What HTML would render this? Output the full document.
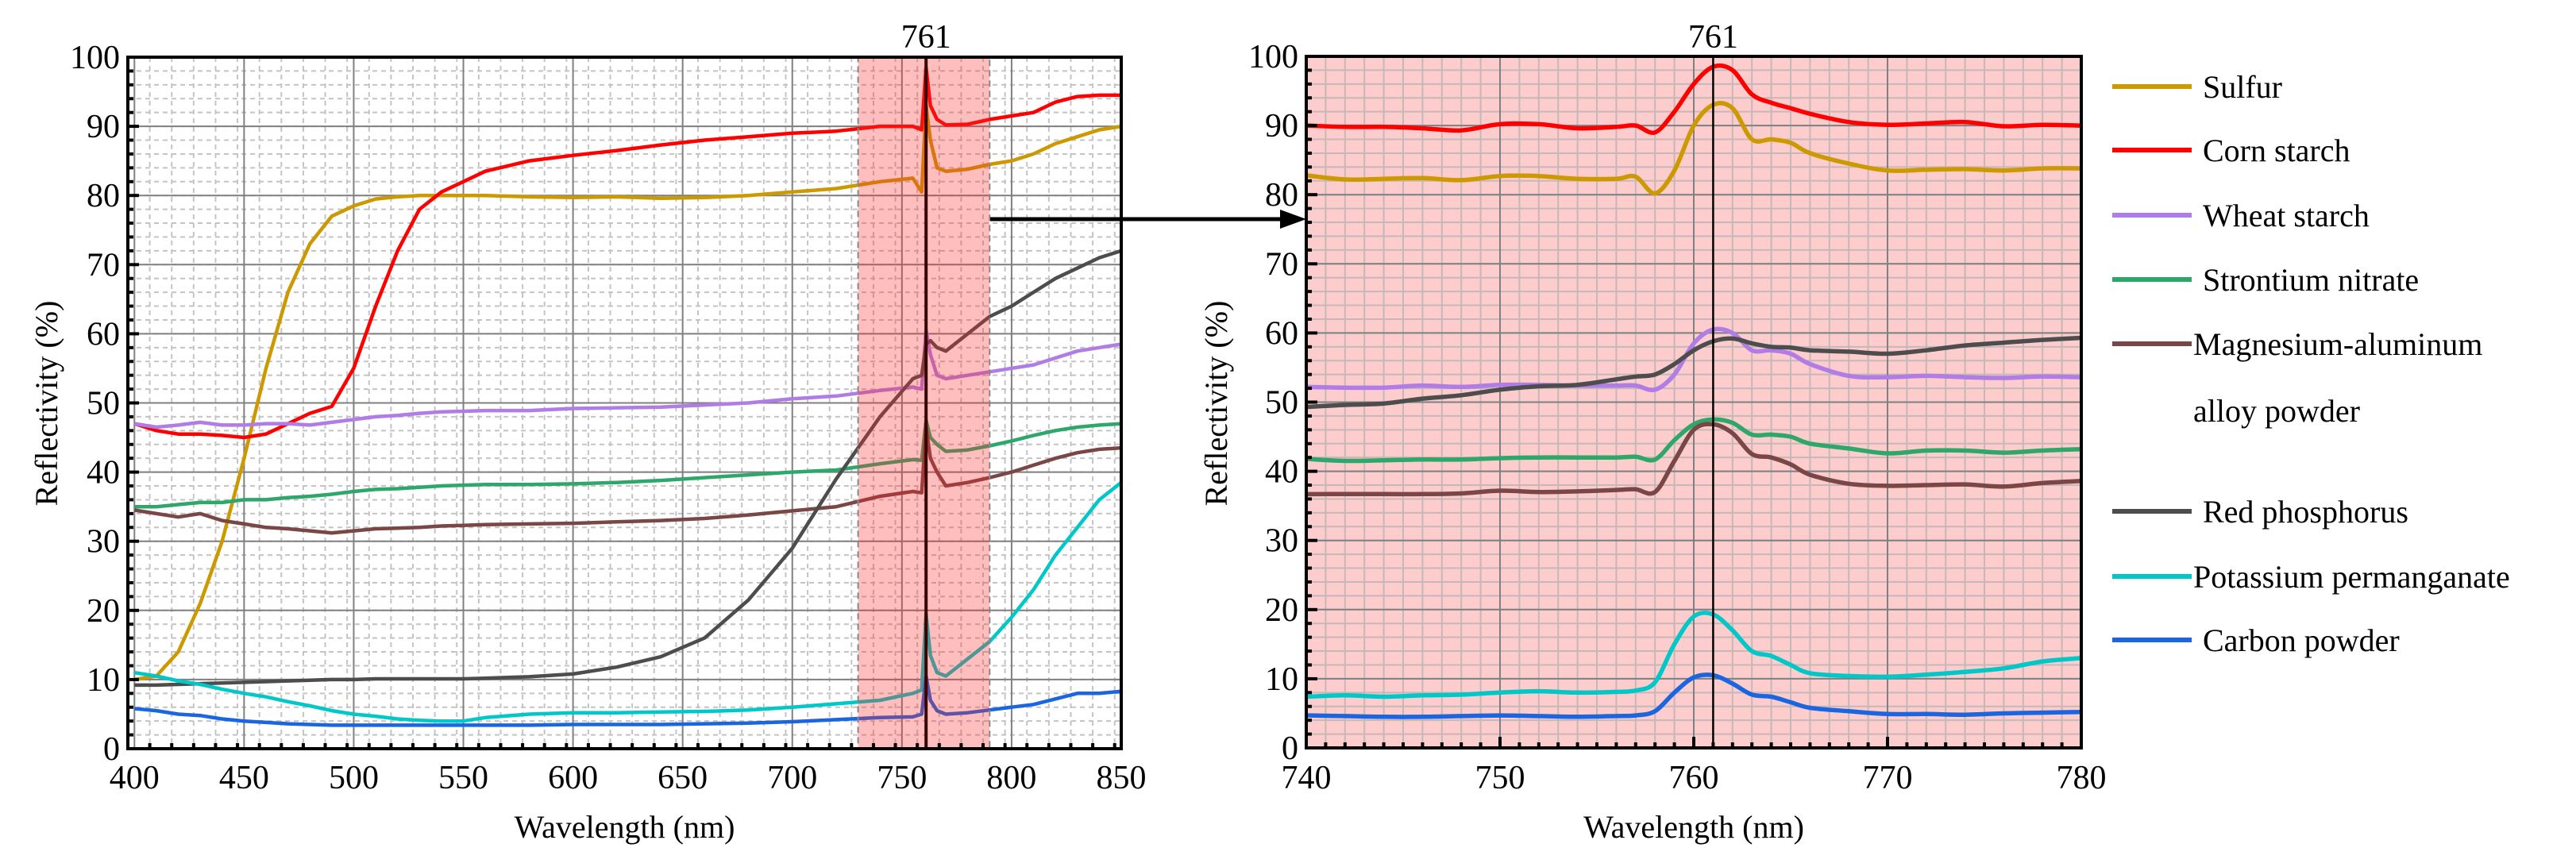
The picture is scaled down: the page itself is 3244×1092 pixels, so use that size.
<!DOCTYPE html>
<html><head><meta charset="utf-8">
<style>
html,body{margin:0;padding:0;background:#fff;}
svg{display:block;}
svg text{font-family:"Liberation Serif","Times New Roman",serif;}
</style></head>
<body>
<svg id="fig" width="3244" height="1092" viewBox="0 0 3244 1092" xmlns="http://www.w3.org/2000/svg" font-family="Liberation Serif, serif">
<g id="left"></g>
<g id="right"></g>
<g id="legend"></g>
<g>
<line x1="1247" y1="276" x2="1620" y2="276" stroke="#000" stroke-width="5"/>
<polygon points="1645,276 1612,264 1612,288" fill="#000"/>
</g>
</svg>
<script>
const names=["Sulfur","Corn starch","Wheat starch","Strontium nitrate","Magnesium-aluminum","Red phosphorus","Potassium permanganate","Carbon powder"];
const colors=["#cc9900","#ff0000","#b07ce6","#2ea86a","#7a4646","#4d4d4d","#00c8c8","#1a66e0"];
const wlFull=[400,410,420,430,440,450,460,470,480,490,500,510,520,530,540,550,560,580,600,620,640,660,680,700,720,740,755,759,761,763,766,770,780,790,800,810,820,830,840,850];
const sulfurFull=[10,10.5,14,21,30,42,55,66,73,77,78.5,79.5,79.8,80,80,80,80,79.8,79.7,79.8,79.6,79.7,80,80.5,81,82,82.5,80.5,93,88,84,83.5,83.8,84.5,85,86,87.5,88.5,89.5,90];
const cornFull=[47,46,45.5,45.5,45.3,45,45.5,47,48.5,49.5,55,64,72,78,80.5,82,83.5,85,85.8,86.5,87.3,88,88.5,89,89.3,90,90,89.5,98.5,93,91,90.2,90.3,91,91.5,92,93.5,94.3,94.5,94.5];
const wheatFull=[47,46.5,46.8,47.2,46.8,46.8,47,47,46.8,47.2,47.6,48,48.2,48.5,48.7,48.8,48.9,48.9,49.2,49.3,49.4,49.7,50,50.6,51,51.8,52.3,52,60.5,57,54,53.5,54,54.5,55,55.5,56.5,57.5,58,58.5];
const strontiumFull=[35,35,35.3,35.6,35.6,36,36,36.3,36.5,36.8,37.2,37.5,37.6,37.8,38,38.1,38.2,38.2,38.3,38.5,38.8,39.2,39.6,40,40.3,41.2,41.8,41.7,47.5,45,44,43,43.2,43.8,44.5,45.3,46,46.5,46.8,47];
const magnesiumFull=[34.5,34,33.5,34,33,32.5,32,31.8,31.5,31.2,31.5,31.8,31.9,32,32.2,32.3,32.4,32.5,32.6,32.8,33,33.3,33.8,34.4,35,36.5,37.2,37,46.5,42,40,38,38.5,39.2,40,41,42,42.8,43.3,43.5];
const phosphorusFull=[9.2,9.2,9.3,9.4,9.5,9.6,9.7,9.8,9.9,10,10,10.1,10.1,10.1,10.1,10.1,10.2,10.4,10.8,11.8,13.3,16,21.5,29,39,48,53.5,54,58.5,59,58,57.5,60,62.5,64,66,68,69.5,71,72];
const potassiumFull=[11,10.5,9.8,9.3,8.6,8,7.5,6.8,6.2,5.5,5,4.7,4.3,4.1,4,4,4.5,5,5.2,5.2,5.3,5.4,5.6,6,6.5,7,8,8.5,19.5,13.5,11,10.5,13,15.5,19,23,28,32,36,38.5];
const carbonFull=[5.8,5.5,5,4.8,4.3,4,3.8,3.6,3.5,3.4,3.4,3.4,3.4,3.4,3.4,3.4,3.4,3.4,3.5,3.5,3.5,3.6,3.7,3.9,4.2,4.5,4.6,5,10.5,7,5.5,5,5.2,5.6,6,6.4,7.2,8,8,8.3];
const wlZoom=[740,742,744,746,748,750,752,754,756,757,758,759,760,761,762,763,764,765,766,768,770,772,774,776,778,780];
const sulfurZoom=[82.8,82.2,82.3,82.4,82.1,82.7,82.7,82.3,82.3,82.6,80.2,83.5,90,93,92.5,88,88,87.5,86,84.5,83.5,83.6,83.7,83.5,83.8,83.8];
const cornZoom=[90,89.8,89.8,89.6,89.3,90.2,90.2,89.6,89.8,90,89,92,96,98.5,98,94.5,93.3,92.5,91.7,90.5,90.1,90.3,90.5,89.9,90.1,90];
const wheatZoom=[52.2,52.1,52.1,52.4,52.2,52.5,52.5,52.4,52.4,52.4,51.8,54,58.5,60.5,60,57.5,57.5,57,55.5,53.8,53.6,53.8,53.6,53.5,53.7,53.6];
const strontiumZoom=[41.8,41.5,41.6,41.7,41.7,41.9,42,42,42,42.1,41.7,44.5,46.8,47.5,47,45.3,45.3,45,44,43.3,42.6,43,43,42.7,43,43.2];
const magnesiumZoom=[36.7,36.7,36.7,36.7,36.8,37.2,37,37.1,37.3,37.4,37,41.5,46,46.8,45.5,42.5,42,41,39.5,38.2,37.9,38,38.1,37.8,38.3,38.6];
const phosphorusZoom=[49.3,49.6,49.8,50.5,51,51.8,52.3,52.5,53.3,53.7,54,55.5,57.5,58.8,59.2,58.5,58,57.9,57.5,57.3,57,57.5,58.2,58.6,59,59.3];
const potassiumZoom=[7.4,7.6,7.4,7.6,7.7,8,8.2,8,8.1,8.3,9.5,15,19,19.3,17,14,13.3,12,10.8,10.4,10.3,10.6,11,11.5,12.5,13];
const carbonZoom=[4.7,4.6,4.5,4.5,4.6,4.7,4.6,4.5,4.6,4.7,5.3,8,10.2,10.5,9.3,7.7,7.4,6.6,5.8,5.3,4.9,4.9,4.8,5,5.1,5.2];
const yTicks=[0,10,20,30,40,50,60,70,80,90,100];
const xTicksFull=[400,450,500,550,600,650,700,750,800,850];
const xTicksZoom=[740,750,760,770,780];

const NS="http://www.w3.org/2000/svg";
const FONT="Liberation Serif, Times New Roman, serif";
function mk(parent,tag,attrs,text){const e=document.createElementNS(NS,tag);for(const k in attrs)e.setAttribute(k,attrs[k]);if(text!==undefined){e.textContent=text;e.setAttribute('font-family',FONT);}parent.appendChild(e);return e;}

function chart(g,o){
  const X=v=>o.x0+(v-o.xmin)/(o.xmax-o.xmin)*(o.x1-o.x0);
  const Y=v=>o.y1-(v-0)/100*(o.y1-o.y0);
  if(o.bg){const r=mk(g,'rect',{x:o.x0,y:o.y0,width:o.x1-o.x0,height:o.y1-o.y0,fill:o.bg});
    }
  for(let v=o.xmin;v<=o.xmax;v+=o.xminor){if(v<o.xt[0])continue;const l=mk(g,'line',{x1:X(v),x2:X(v),y1:o.y0,y2:o.y1,stroke:o.minorCol,'stroke-width':2,'stroke-dasharray':o.dash});
    }
  for(let v=0;v<=100;v+=2){const l=mk(g,'line',{x1:o.x0,x2:o.x1,y1:Y(v),y2:Y(v),stroke:o.minorCol,'stroke-width':2,'stroke-dasharray':o.dash});
    }
  o.xt.forEach(v=>{const l=mk(g,'line',{x1:X(v),x2:X(v),y1:o.y0,y2:o.y1,stroke:'#808080','stroke-width':2});
    });
  yTicks.forEach(v=>{const l=mk(g,'line',{x1:o.x0,x2:o.x1,y1:Y(v),y2:Y(v),stroke:'#808080','stroke-width':2});
    });
  o.series.forEach((s,i)=>{
    let d;
    if(o.smooth){
      const P=o.wl.map((w,j)=>[X(w),Y(s[j])]);
      d='M'+P[0][0]+','+P[0][1];
      for(let j=0;j<P.length-1;j++){const p0=P[Math.max(0,j-1)],p1=P[j],p2=P[j+1],p3=P[Math.min(P.length-1,j+2)];
        const c1=[p1[0]+(p2[0]-p0[0])/6,p1[1]+(p2[1]-p0[1])/6],c2=[p2[0]-(p3[0]-p1[0])/6,p2[1]-(p3[1]-p1[1])/6];
        d+=' C'+c1[0].toFixed(1)+','+c1[1].toFixed(1)+' '+c2[0].toFixed(1)+','+c2[1].toFixed(1)+' '+p2[0].toFixed(1)+','+p2[1].toFixed(1);}
    } else d='M'+o.wl.map((w,j)=>X(w).toFixed(1)+','+Y(s[j]).toFixed(1)).join(' L');
    const p=mk(g,'path',{d:d,fill:'none',stroke:colors[i],'stroke-width':o.lw,'stroke-linejoin':'round'});
    
    
  });
  if(o.shade){const r=mk(g,'rect',{x:X(o.shade[0]),y:o.y0,width:X(o.shade[1])-X(o.shade[0]),height:o.y1-o.y0,fill:'rgba(255,40,40,0.3)',stroke:'#888','stroke-width':2,'stroke-dasharray':'8,5'});
    }
  const vl=mk(g,'line',{x1:X(761),x2:X(761),y1:o.y0,y2:o.y1,stroke:o.shade?'#3a0000':'#000','stroke-width':o.shade?4:2.5});
  
  const t761=mk(g,'text',{x:X(761),y:60,'font-size':42,'text-anchor':'middle'},'761');
  
  for(let v=0;v<=100;v+=2){const l=mk(g,'line',{x1:o.x0,x2:o.x0+(v%10===0?14:7),y1:Y(v),y2:Y(v),stroke:'#000','stroke-width':4});
    }
  for(let v=o.xmin;v<=o.xmax;v+=o.xminor){if(v<o.xt[0])continue;const l=mk(g,'line',{x1:X(v),x2:X(v),y1:o.y1,y2:o.y1-((v-o.xt[0])%(o.xt[1]-o.xt[0])===0?14:7),stroke:'#000','stroke-width':4});
    }
  const fr=mk(g,'rect',{x:o.x0,y:o.y0,width:o.x1-o.x0,height:o.y1-o.y0,fill:'none',stroke:'#000','stroke-width':4});
  
  yTicks.forEach(v=>{const t=mk(g,'text',{x:o.x0-10,y:Y(v)+14,'font-size':42,'text-anchor':'end'},String(v));
    });
  o.xt.forEach(v=>{const t=mk(g,'text',{x:X(v),y:993,'font-size':42,'text-anchor':'middle'},String(v));
    });
  const xt=mk(g,'text',{x:(o.x0+o.x1)/2,y:1055,'font-size':40,'text-anchor':'middle'},'Wavelength (nm)');
  
  const yt=mk(g,'text',{x:0,y:0,'font-size':40,'text-anchor':'middle',transform:'translate('+(o.ytx)+',508) rotate(-90)'},'Reflectivity (%)');
  
}
chart(document.getElementById('left'),{x0:161,x1:1412,y0:72,y1:943,xmin:397,xmax:850,xminor:10,xt:xTicksFull,wl:wlFull,
  series:[sulfurFull,cornFull,wheatFull,strontiumFull,magnesiumFull,phosphorusFull,potassiumFull,carbonFull],
  lw:4.5,minorCol:'#c4c4c4',dash:'6,5',shade:[730,790],ytx:72,smooth:false});
chart(document.getElementById('right'),{x0:1645,x1:2621,y0:71,y1:942,xmin:740,xmax:780,xminor:1,xt:xTicksZoom,wl:wlZoom,
  series:[sulfurZoom,cornZoom,wheatZoom,strontiumZoom,magnesiumZoom,phosphorusZoom,potassiumZoom,carbonZoom],
  lw:5.5,minorCol:'#c6b8b8',dash:'none',bg:'#fdcccc',ytx:1545,smooth:true});
const lg=document.getElementById('legend');
const legY=[109,189,271,352,433,644,726,806];
const legX=[2774,2774,2774,2774,2762,2774,2762,2774];
legY.forEach((y,i)=>{
  const l=mk(lg,'line',{x1:2660,x2:2760,y1:y,y2:y,stroke:colors[i],'stroke-width':6});
  
  const t=mk(lg,'text',{x:legX[i],y:y+14,'font-size':40},names[i]);
  
});
const t2=mk(lg,'text',{x:2762,y:531,'font-size':40},'alloy powder');


</script>
</body></html>
